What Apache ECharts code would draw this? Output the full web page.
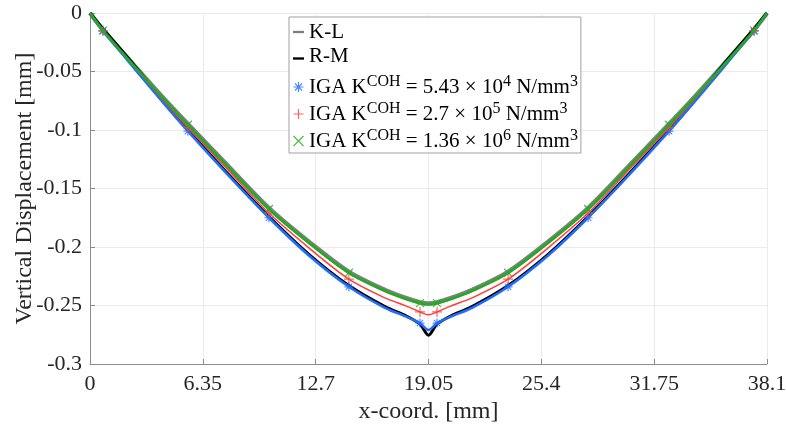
<!DOCTYPE html>
<html>
<head>
<meta charset="utf-8">
<script src="https://cdn.jsdelivr.net/npm/echarts@6/dist/echarts.min.js"></script>
<style>
html,body{margin:0;padding:0;background:#fff;}
#c{width:786px;height:429px;}
</style>
</head>
<body>
<div id="c"></div>
<script>
// ---- data ----
const xTickLabels = ['0', '6.35', '12.7', '19.05', '25.4', '31.75', '38.1'];
const yTickLabels = ['-0.3', '-0.25', '-0.2', '-0.15', '-0.1', '-0.05', '0'];

const lineX = [0, 0.73, 2.5, 4, 5.51, 7.8, 10.07, 12.3, 14.57, 16.6, 17.8, 18.57, 19.05,
  19.53, 20.3, 21.5, 23.53, 25.8, 28.03, 30.3, 32.59, 34.1, 35.6, 37.37, 38.1];

const klY = [0, -0.0145, -0.045, -0.0705, -0.095, -0.1313, -0.1668, -0.1953, -0.2213, -0.2368, -0.2438, -0.2473, -0.2483,
  -0.2473, -0.2438, -0.2368, -0.2213, -0.1953, -0.1668, -0.1313, -0.095, -0.0705, -0.045, -0.0145, 0];
const rmY = [0, -0.0135, -0.045, -0.0735, -0.1, -0.138, -0.174, -0.206, -0.233, -0.251, -0.259, -0.266, -0.2755,
  -0.266, -0.259, -0.251, -0.233, -0.206, -0.174, -0.138, -0.1, -0.0735, -0.045, -0.0135, 0];
const iga1Y = [0, -0.015, -0.0475, -0.0745, -0.101, -0.139, -0.175, -0.207, -0.234, -0.252, -0.2595, -0.265, -0.271,
  -0.265, -0.2595, -0.252, -0.234, -0.207, -0.175, -0.139, -0.101, -0.0745, -0.0475, -0.015, 0];
const iga2Y = [0, -0.015, -0.046, -0.0725, -0.098, -0.1345, -0.171, -0.2005, -0.2275, -0.2435, -0.2505, -0.2555, -0.258,
  -0.2555, -0.2505, -0.2435, -0.2275, -0.2005, -0.171, -0.1345, -0.098, -0.0725, -0.046, -0.015, 0];
const iga3Y = [0, -0.0148, -0.0455, -0.071, -0.0955, -0.132, -0.1675, -0.196, -0.222, -0.2375, -0.2445, -0.248, -0.249,
  -0.248, -0.2445, -0.2375, -0.222, -0.196, -0.1675, -0.132, -0.0955, -0.071, -0.0455, -0.0148, 0];

const markerX = [0.73, 5.51, 10.07, 14.57, 18.57, 19.53, 23.53, 28.03, 32.59, 37.37];
const iga1M = [-0.0155, -0.101, -0.175, -0.234, -0.265, -0.265, -0.234, -0.175, -0.101, -0.0155];
const iga2M = [-0.015, -0.098, -0.171, -0.2275, -0.2555, -0.2555, -0.2275, -0.171, -0.098, -0.015];
const iga3M = [-0.0148, -0.0955, -0.1675, -0.222, -0.248, -0.248, -0.222, -0.1675, -0.0955, -0.0148];

const legendLabels = {
  'K-L': '{t|K-L}',
  'R-M': '{tb|R-M}',
  'iga1': '{t|IGA K}{s|COH}{t| = 5.43 × 10}{s|4}{t| N/mm}{s|3}',
  'iga2': '{t|IGA K}{s|COH}{t| = 2.7 × 10}{s|5}{t| N/mm}{s|3}',
  'iga3': '{t|IGA K}{s|COH}{t| = 1.36 × 10}{s|6}{t| N/mm}{s|3}'
};

// ---- styling ----
const FONT = 'Liberation Serif';
const TXT = '#262626';
const C_KL = '#7f7f7f', C_RM = '#000000', C_B = '#1f6fff', C_R = '#ff3d3d', C_G = '#1fae1f';
const ASTER = 'path://M0,5L10,5M5,0L5,10M1.5,1.5L8.5,8.5M1.5,8.5L8.5,1.5';
const PLUS = 'path://M0,5L10,5M5,0L5,10';
const CROSS = 'path://M0,0L10,10M0,10L10,0';
const LINEICON = 'path://M0,0L14,0L14,3L0,3Z';

function zip(xs, ys) { return xs.map((x, i) => [x, ys[i]]); }

function lineSeries(name, ys, color, width, z) {
  return { name: name, type: 'line', data: zip(lineX, ys), showSymbol: false, symbol: 'none',
    smooth: 0.3, lineStyle: { color: color, width: width }, itemStyle: { color: color },
    z: z, silent: true, animation: false };
}
function markerSeries(name, ys, color, sym, size, z) {
  return { name: name, type: 'scatter', data: zip(markerX, ys), symbol: sym, symbolSize: size,
    itemStyle: { color: 'none', borderColor: color, borderWidth: 1.2 }, z: z, silent: true, animation: false };
}

const chart = echarts.init(document.getElementById('c'), null, { renderer: 'canvas' });
chart.setOption({
  animation: false,
  backgroundColor: '#fff',
  textStyle: { fontFamily: FONT },
  grid: { left: 90, right: 19, top: 13, bottom: 65, containLabel: false, outerBoundsMode: 'none' },
  xAxis: {
    type: 'value', min: 0, max: 38.1, interval: 6.35,
    name: 'x-coord. [mm]', nameLocation: 'middle', nameGap: 36, nameMoveOverlap: false,
    nameTextStyle: { fontFamily: FONT, fontSize: 24, color: TXT },
    axisLine: { show: true, onZero: false, lineStyle: { color: '#8c8c8c', width: 1 } },
    axisTick: { show: true, inside: true, length: 5, lineStyle: { color: '#8c8c8c' } },
    axisLabel: { fontFamily: FONT, fontSize: 22, color: TXT, margin: 9,
      formatter: function (v) { return xTickLabels[Math.round(v / 6.35)]; } },
    splitLine: { show: true, lineStyle: { color: '#ebebeb', width: 1 } }
  },
  yAxis: {
    type: 'value', min: -0.3, max: 0, interval: 0.05,
    name: 'Vertical Displacement [mm]', nameLocation: 'middle', nameGap: 53, nameMoveOverlap: false,
    nameTextStyle: { fontFamily: FONT, fontSize: 24, color: TXT },
    axisLine: { show: true, onZero: false, lineStyle: { color: '#8c8c8c', width: 1 } },
    axisTick: { show: true, inside: true, length: 5, lineStyle: { color: '#8c8c8c' } },
    axisLabel: { fontFamily: FONT, fontSize: 22, color: TXT, margin: 8,
      formatter: function (v) { return yTickLabels[Math.round((v + 0.3) / 0.05)]; } },
    splitLine: { show: true, lineStyle: { color: '#ebebeb', width: 1 } }
  },
  legend: {
    left: 289, top: 17, orient: 'vertical', selectedMode: false,
    backgroundColor: '#fff', borderColor: '#a0a0a0', borderWidth: 1,
    padding: [5, 3, 1, 2], itemGap: 3, itemWidth: 11, itemHeight: 10,
    data: [
      { name: 'K-L', icon: LINEICON, itemStyle: { color: C_KL, borderWidth: 0 } },
      { name: 'R-M', icon: LINEICON, itemStyle: { color: C_RM, borderWidth: 0 } },
      { name: 'iga1', icon: ASTER, itemStyle: { color: 'none', borderColor: C_B, borderWidth: 1.2 } },
      { name: 'iga2', icon: PLUS, itemStyle: { color: 'none', borderColor: C_R, borderWidth: 1.2 } },
      { name: 'iga3', icon: CROSS, itemStyle: { color: 'none', borderColor: C_G, borderWidth: 1.2 } }
    ],
    formatter: function (n) { return legendLabels[n]; },
    textStyle: {
      color: '#000', fontFamily: FONT,
      rich: {
        t: { fontFamily: FONT, fontSize: 21, lineHeight: 22, color: '#000', verticalAlign: 'bottom' },
        tb: { fontFamily: FONT, fontSize: 21, lineHeight: 22, color: '#000', padding: [0, 0, 4, 0] },
        s: { fontFamily: FONT, fontSize: 16, lineHeight: 16, color: '#000', verticalAlign: 'bottom', padding: [0, 0, 8, 0] }
      }
    }
  },
  series: [
    lineSeries('K-L', klY, C_KL, 4.5, 2),
    lineSeries('R-M', rmY, C_RM, 3, 3),
    lineSeries('iga1line', iga1Y, C_B, 2.5, 4),
    markerSeries('iga1', iga1M, C_B, ASTER, 9, 5),
    lineSeries('iga2line', iga2Y, C_R, 1.5, 6),
    markerSeries('iga2', iga2M, C_R, PLUS, 10, 7),
    lineSeries('iga3line', iga3Y, C_G, 2.5, 8),
    markerSeries('iga3', iga3M, C_G, CROSS, 8, 9)
  ]
});
</script>
</body>
</html>
